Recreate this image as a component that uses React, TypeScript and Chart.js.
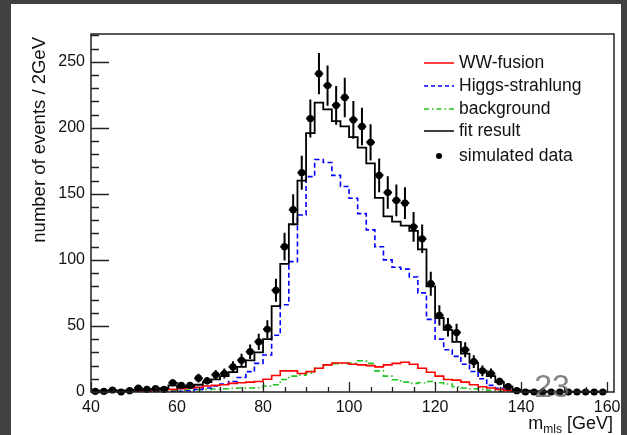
import React, { useEffect, useRef } from "react";
import { Chart, registerables } from "chart.js";

Chart.register(...registerables);

// bin centres (2 GeV bins from 40 to 160)
const binCenters = [
  41, 43, 45, 47, 49, 51, 53, 55, 57, 59,
  61, 63, 65, 67, 69, 71, 73, 75, 77, 79,
  81, 83, 85, 87, 89, 91, 93, 95, 97, 99,
  101, 103, 105, 107, 109, 111, 113, 115, 117, 119,
  121, 123, 125, 127, 129, 131, 133, 135, 137, 139,
  141, 143, 145, 147, 149, 151, 153, 155, 157, 159,
];

const simulatedData = [
  0.5, 0.5, 1.5, 0, 1, 3, 2, 2.5, 2, 7,
  5, 5, 10.5, 8.5, 13, 14, 19, 24, 30.5, 38,
  47.5, 77, 110, 138, 166, 207, 241, 232, 217, 223,
  206, 201, 189, 164, 151, 145, 143, 125, 116, 82,
  58, 49, 45, 32, 23, 16, 14, 8, 4, 1,
  0, 0, 0, 0, 0, 0, 0, 0, 0, 0,
];

const fitResult = [
  1, 1, 1, 1, 1.2, 1.5, 2, 2, 3, 5,
  3.5, 4, 5.5, 7.5, 9.5, 12, 15, 19, 24, 30,
  40, 65, 97, 127, 160, 196, 219, 214, 205, 201,
  193, 185, 173, 147, 133, 129, 126, 122, 108, 80,
  56, 47, 38, 29, 22, 16, 12, 7.5, 4, 1.8,
  1, 0.6, 0.4, 0.3, 0.3, 0.2, 0.2, 0.2, 0.2, 0.2,
];

const higgsStrahlung = [
  0, 0, 0, 0, 0, 0.1, 0.1, 0.2, 0.3, 0.3,
  0.5, 1, 2, 3, 4.5, 6, 8, 11, 15.4, 21.7,
  28, 43, 66, 98.7, 134, 163, 176, 173.7, 164, 155.6,
  146.7, 135, 122.7, 110, 100, 94.4, 93, 87, 75, 55,
  40, 32, 27, 21, 15.5, 10, 5, 2.8, 1, 0.3,
  0, 0, 0, 0, 0, 0, 0, 0, 0, 0,
];

const wwFusion = [
  0, 0, 0, 0.2, 0.3, 0.5, 1, 1.5, 1.8, 2,
  2.5, 3, 3.5, 4.5, 5, 5.5, 6.5, 7, 7.5, 8,
  9.6, 12.5, 16, 16, 14, 15.4, 18, 20.5, 22, 22,
  21, 20.5, 20, 19, 20.5, 21.7, 22.5, 21, 18, 15,
  12, 9.5, 9, 7.5, 5.5, 4, 3, 2, 1.2, 0.6,
  0.3, 0, 0, 0, 0, 0, 0, 0, 0, 0,
];

const background = [
  0.1, 0.1, 0.1, 0.1, 0.1, 0.3, 0.5, 0.7, 1, 1,
  1.2, 1.5, 1.8, 2, 2.3, 2.5, 2.8, 3, 3, 3.2,
  4.5, 5.5, 9.5, 12, 12.8, 14.3, 18, 20.2, 21.5, 21.7,
  21.8, 23.6, 21.7, 16, 12, 9.3, 7.5, 6.5, 7, 8,
  7, 6, 4, 3, 2.5, 2, 1.2, 0.6, 0.3, 0.1,
  0.1, 0.1, 0.1, 0.1, 0.1, 0.1, 0.1, 0.1, 0.1, 0.1,
];

const xTickLabels = [40, 60, 80, 100, 120, 140, 160];
const yTickLabels = [0, 50, 100, 150, 200, 250];
const legendLabels = ["WW-fusion", "Higgs-strahlung", "background", "fit result", "simulated data"];
const yTitle = "number of events / 2GeV";
const xTitleMain = "m";
const xTitleSub = "mls";
const xTitleUnit = " [GeV]";
const pageNumber = "23";

const FONT = "'Liberation Sans', Arial, Helvetica, sans-serif";

export default function App() {
  const ref = useRef<HTMLCanvasElement>(null);

  useEffect(() => {
    const canvas = ref.current;
    if (!canvas) return;

    // points at bin edges; 'before' stepping keeps each bin's value across its width
    const stepPoints = (vals: number[]) => {
      const pts = binCenters.map((c, i) => ({ x: c - 1, y: vals[i] }));
      pts.push({ x: binCenters[binCenters.length - 1] + 1, y: vals[vals.length - 1] });
      return pts;
    };

    const decor = {
      id: "decor",
      beforeDraw(chart: any) {
        const ctx = chart.ctx;
        ctx.save();
        ctx.fillStyle = "#414141";
        ctx.fillRect(0, 0, chart.width, chart.height);
        ctx.fillStyle = "#ffffff";
        ctx.fillRect(11, 4, 610, chart.height - 4);
        ctx.restore();
      },
      afterDatasetsDraw(chart: any) {
        const ctx = chart.ctx;
        const a = chart.chartArea;
        const xs = chart.scales.x;
        const ys = chart.scales.y;
        ctx.save();

        // error bars of simulated data
        ctx.strokeStyle = "#000";
        ctx.lineWidth = 2;
        binCenters.forEach((c, i) => {
          const v = simulatedData[i];
          const px = xs.getPixelForValue(c);
          const py = ys.getPixelForValue(v);
          ctx.beginPath();
          ctx.moveTo(xs.getPixelForValue(c - 1), py);
          ctx.lineTo(xs.getPixelForValue(c + 1), py);
          if (v > 0) {
            const e = Math.sqrt(v);
            ctx.moveTo(px, ys.getPixelForValue(v + e));
            ctx.lineTo(px, ys.getPixelForValue(Math.max(0, v - e)));
          }
          ctx.stroke();
        });

        // frame
        ctx.strokeStyle = "#222";
        ctx.lineWidth = 1.5;
        ctx.strokeRect(a.left, a.top, a.right - a.left, a.bottom - a.top);

        // ticks (inward)
        ctx.lineWidth = 1.3;
        ctx.strokeStyle = "#222";
        ctx.beginPath();
        for (let v = 0; v <= 270; v += 10) {
          const py = Math.round(ys.getPixelForValue(v)) + 0.5;
          const len = v % 50 === 0 ? 18 : 8;
          ctx.moveTo(a.left, py);
          ctx.lineTo(a.left + len, py);
        }
        for (let v = 40; v <= 160; v += 5) {
          const px = Math.round(xs.getPixelForValue(v)) + 0.5;
          const len = v % 20 === 0 ? 10 : 5;
          ctx.moveTo(px, a.bottom);
          ctx.lineTo(px, a.bottom - len);
        }
        ctx.stroke();

        // legend
        const lx0 = 424, lx1 = 454, tx = 459;
        const rows = [63, 86, 109, 131, 156];
        const styles = [
          { c: "#ff0000", d: [] as number[] },
          { c: "#0000ff", d: [4, 3] },
          { c: "#1fc41f", d: [5, 3, 1.5, 3] },
          { c: "#000000", d: [] as number[] },
        ];
        styles.forEach((s, i) => {
          ctx.strokeStyle = s.c;
          ctx.lineWidth = 1.5;
          ctx.setLineDash(s.d);
          ctx.beginPath();
          ctx.moveTo(lx0, rows[i]);
          ctx.lineTo(lx1, rows[i]);
          ctx.stroke();
        });
        ctx.setLineDash([]);
        ctx.fillStyle = "#000";
        ctx.beginPath();
        ctx.arc(439, rows[4], 3, 0, Math.PI * 2);
        ctx.fill();
        ctx.font = `17.5px ${FONT}`;
        ctx.textAlign = "left";
        ctx.textBaseline = "middle";
        ctx.fillStyle = "#111";
        legendLabels.forEach((t, i) => ctx.fillText(t, tx, rows[i]));

        // y title
        ctx.save();
        ctx.translate(40, 37);
        ctx.rotate(-Math.PI / 2);
        ctx.font = `18.5px ${FONT}`;
        ctx.textAlign = "right";
        ctx.textBaseline = "middle";
        ctx.fillText(yTitle, 0, 0);
        ctx.restore();

        // x title
        ctx.textBaseline = "alphabetic";
        ctx.textAlign = "left";
        ctx.font = `18px ${FONT}`;
        const wUnit = ctx.measureText(xTitleUnit).width;
        ctx.font = `12px ${FONT}`;
        const wSub = ctx.measureText(xTitleSub).width;
        ctx.font = `18px ${FONT}`;
        const wMain = ctx.measureText(xTitleMain).width;
        const right = 613;
        let cx = right - wUnit - wSub - wMain;
        ctx.fillText(xTitleMain, cx, 429);
        cx += wMain;
        ctx.font = `12px ${FONT}`;
        ctx.fillText(xTitleSub, cx, 433);
        cx += wSub;
        ctx.font = `18px ${FONT}`;
        ctx.fillText(xTitleUnit, cx, 429);

        // slide page number
        ctx.font = `32px ${FONT}`;
        ctx.fillStyle = "rgba(100,100,100,0.8)";
        ctx.textAlign = "center";
        ctx.textBaseline = "middle";
        ctx.fillText(pageNumber, 552, 388);

        ctx.restore();
      },
    };

    const chart = new Chart(canvas, {
      type: "scatter",
      data: {
        datasets: [
          {
            label: legendLabels[4],
            data: binCenters.map((c, i) => ({ x: c, y: simulatedData[i] })),
            showLine: false,
            pointRadius: 3.6,
            pointBackgroundColor: "#000",
            pointBorderColor: "#000",
            pointBorderWidth: 0,
            clip: false,
          } as any,
          {
            label: legendLabels[3],
            type: "line",
            data: stepPoints(fitResult),
            stepped: "before",
            borderColor: "#000",
            borderWidth: 1.8,
            pointRadius: 0,
            fill: false,
          } as any,
          {
            label: legendLabels[0],
            type: "line",
            data: stepPoints(wwFusion),
            stepped: "before",
            borderColor: "#ff0000",
            borderWidth: 1.6,
            pointRadius: 0,
            fill: false,
          } as any,
          {
            label: legendLabels[1],
            type: "line",
            data: stepPoints(higgsStrahlung),
            stepped: "before",
            borderColor: "#0000ff",
            borderWidth: 1.6,
            borderDash: [5, 3],
            pointRadius: 0,
            fill: false,
          } as any,
          {
            label: legendLabels[2],
            type: "line",
            data: stepPoints(background),
            stepped: "before",
            borderColor: "#1fc41f",
            borderWidth: 1.6,
            borderDash: [6, 3, 1.5, 3],
            pointRadius: 0,
            fill: false,
          } as any,
        ],
      },
      options: {
        responsive: false,
        animation: false,
        devicePixelRatio: 1,
        layout: { padding: { top: 34, right: 13, left: 0, bottom: 0 } },
        plugins: { legend: { display: false }, tooltip: { enabled: false } },
        scales: {
          x: {
            type: "linear",
            min: 40,
            max: 161.6,
            afterFit: (s: any) => {
              s.height = 43;
              s.paddingLeft = 0;
              s.paddingRight = 0;
            },
            afterBuildTicks: (s: any) => {
              s.ticks = xTickLabels.map((v) => ({ value: v }));
            },
            ticks: {
              font: { family: FONT, size: 16 },
              color: "#111",
              padding: 6,
              maxRotation: 0,
              autoSkip: false,
              callback: (v: any) => String(v),
            },
            grid: { display: false, drawTicks: false },
            border: { display: false },
          },
          y: {
            type: "linear",
            min: 0,
            max: 271,
            afterFit: (s: any) => {
              s.width = 91;
              s.paddingTop = 0;
              s.paddingBottom = 0;
            },
            afterBuildTicks: (s: any) => {
              s.ticks = yTickLabels.map((v) => ({ value: v }));
            },
            ticks: {
              font: { family: FONT, size: 16 },
              color: "#111",
              padding: 6,
              autoSkip: false,
              callback: (v: any) => String(v),
            },
            grid: { display: false, drawTicks: false },
            border: { display: false },
          },
        },
      } as any,
      plugins: [decor],
    });

    return () => chart.destroy();
  }, []);

  return (
    <div style={{ position: "fixed", left: 0, top: 0, width: 627, height: 435 }}>
      <canvas ref={ref} width={627} height={435} style={{ display: "block" }} />
    </div>
  );
}
